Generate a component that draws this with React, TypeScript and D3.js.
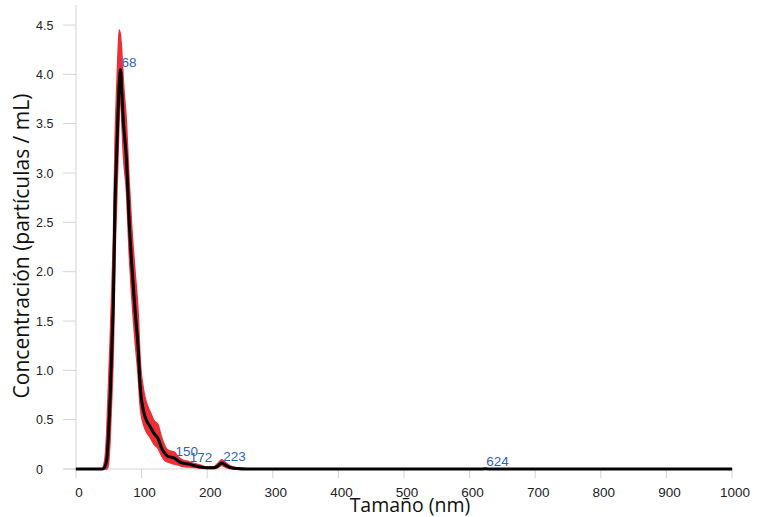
import React from "react";
import * as d3 from "d3";

// Particle size (nm)
const sizes = [0, 40, 42, 45, 47, 49.5, 52, 55, 57, 59.5, 62, 64, 66, 68, 70, 72, 77, 81, 85, 90, 95, 97.5, 102.5, 107, 113, 119, 125, 130, 135, 140, 145, 150, 156, 163, 172, 180, 190, 200, 210, 216, 222, 228, 235, 245, 260, 300, 400, 500, 600, 615, 624, 635, 700, 800, 900, 1000];
// Mean concentration
const meanVals = [0, 0, 0.005, 0.04, 0.1, 0.35, 0.72, 1.3, 1.72, 2.7, 3.2, 3.6, 3.92, 4.05, 3.8, 3.54, 3.13, 2.52, 2.07, 1.61, 1.2, 0.87, 0.6, 0.5, 0.43, 0.36, 0.31, 0.22, 0.16, 0.13, 0.12, 0.11, 0.08, 0.06, 0.05, 0.035, 0.02, 0.012, 0.012, 0.03, 0.06, 0.04, 0.015, 0.005, 0, 0, 0, 0, 0, 0, 0.002, 0, 0, 0, 0, 0];
// Lower error bound
const lowerVals = [0, 0, 0, 0, 0, 0.05, 0.3, 0.8, 1.2, 2.15, 2.7, 3.15, 3.6, 3.8, 3.5, 3.2, 2.8, 2.2, 1.75, 1.3, 0.92, 0.66, 0.46, 0.38, 0.32, 0.25, 0.21, 0.14, 0.09, 0.07, 0.06, 0.05, 0.04, 0.025, 0.02, 0.015, 0.008, 0.004, 0.004, 0.012, 0.035, 0.018, 0.004, 0, 0, 0, 0, 0, 0, 0, 0, 0, 0, 0, 0, 0];
// Upper error bound
const upperVals = [0, 0, 0.03, 0.16, 0.4, 0.85, 1.3, 1.9, 2.35, 3.3, 3.85, 4.2, 4.45, 4.38, 4.2, 3.95, 3.5, 2.92, 2.45, 2.0, 1.55, 1.15, 0.82, 0.68, 0.58, 0.49, 0.45, 0.33, 0.24, 0.19, 0.18, 0.17, 0.12, 0.09, 0.075, 0.055, 0.038, 0.022, 0.022, 0.055, 0.095, 0.065, 0.032, 0.013, 0.003, 0, 0, 0, 0, 0.002, 0.005, 0.002, 0, 0, 0, 0];

const peakLabels = [68, 150, 172, 223, 624];
const xTicks = [0, 100, 200, 300, 400, 500, 600, 700, 800, 900, 1000];
const yTicks = [0, 0.5, 1.0, 1.5, 2.0, 2.5, 3.0, 3.5, 4.0, 4.5];
const yTickLabels = ["0", "0.5", "1.0", "1.5", "2.0", "2.5", "3.0", "3.5", "4.0", "4.5"];

const W = 758;
const H = 517;

export default function App() {
  const x = d3.scaleLinear().domain([0, 1000]).range([76, 732]);
  const y = d3.scaleLinear().domain([0, 4.5]).range([469, 25]);

  const pts = sizes.map((s, i) => ({ s, m: meanVals[i], lo: lowerVals[i], hi: upperVals[i] }));

  const area = d3
    .area<any>()
    .x((d) => x(d.s))
    .y0((d) => y(d.lo))
    .y1((d) => y(d.hi))
    .curve(d3.curveMonotoneX);
  const line = d3
    .line<any>()
    .x((d) => x(d.s))
    .y((d) => y(d.m))
    .curve(d3.curveMonotoneX);

  const meanAt = (v: number) => {
    const i = d3.bisectLeft(sizes, v);
    if (i <= 0) return meanVals[0];
    if (i >= sizes.length) return meanVals[meanVals.length - 1];
    const t = (v - sizes[i - 1]) / (sizes[i] - sizes[i - 1]);
    return meanVals[i - 1] + t * (meanVals[i] - meanVals[i - 1]);
  };

  const axisColor = "#d4d4d4";
  const tickFont = "'Liberation Sans', Arial, sans-serif";

  return (
    <svg width={W} height={H} style={{ position: "absolute", left: 0, top: 0, background: "#fff" }}>
      {/* axes */}
      <line x1={x(0)} x2={x(0)} y1={5} y2={y(0)} stroke={axisColor} strokeWidth={1} />
      <line x1={64} x2={x(1000)} y1={y(0)} y2={y(0)} stroke={axisColor} strokeWidth={1} />
      {yTicks.map((t) => (
        <line key={"yt" + t} x1={63} x2={x(0)} y1={y(t)} y2={y(t)} stroke={axisColor} strokeWidth={1} />
      ))}
      {xTicks.map((t) => (
        <line key={"xt" + t} x1={x(t)} x2={x(t)} y1={y(0)} y2={y(0) + 9} stroke={axisColor} strokeWidth={1} />
      ))}

      {/* error band and mean line */}
      <path d={area(pts) || ""} fill="#ec2f35" stroke="#ec2f35" strokeWidth={1.5} strokeLinejoin="round" />
      <path d={line(pts) || ""} fill="none" stroke="#000" strokeWidth={3} strokeLinejoin="round" />

      {/* tick labels */}
      {yTicks.map((t, i) => (
        <text key={"yl" + t} x={36} y={y(t)} dy="0.36em" fontSize={12.5} fontFamily={tickFont} fill="#222">
          {yTickLabels[i]}
        </text>
      ))}
      {xTicks.map((t) => (
        <text key={"xl" + t} x={x(t) + 3} y={497} textAnchor="middle" fontSize={13.5} fontFamily={tickFont} fill="#222">
          {t}
        </text>
      ))}

      {/* peak labels */}
      {peakLabels.map((p) => (
        <text key={"pk" + p} x={x(p) + 1} y={y(meanAt(p)) - 2.5} fontSize={13.5} fontFamily={tickFont} fill="#2f5fbf">
          {p}
        </text>
      ))}

      {/* axis titles */}
      <text x={410} y={512} textAnchor="middle" fontSize={19.5} fontFamily="'Open Sans', sans-serif" fill="#111">
        Tamaño (nm)
      </text>
      <text
        transform="translate(29,246) rotate(-90)"
        textAnchor="middle"
        fontSize={21}
        fontFamily="'Open Sans', sans-serif"
        fill="#111"
      >
        Concentración (partículas / mL)
      </text>
    </svg>
  );
}
